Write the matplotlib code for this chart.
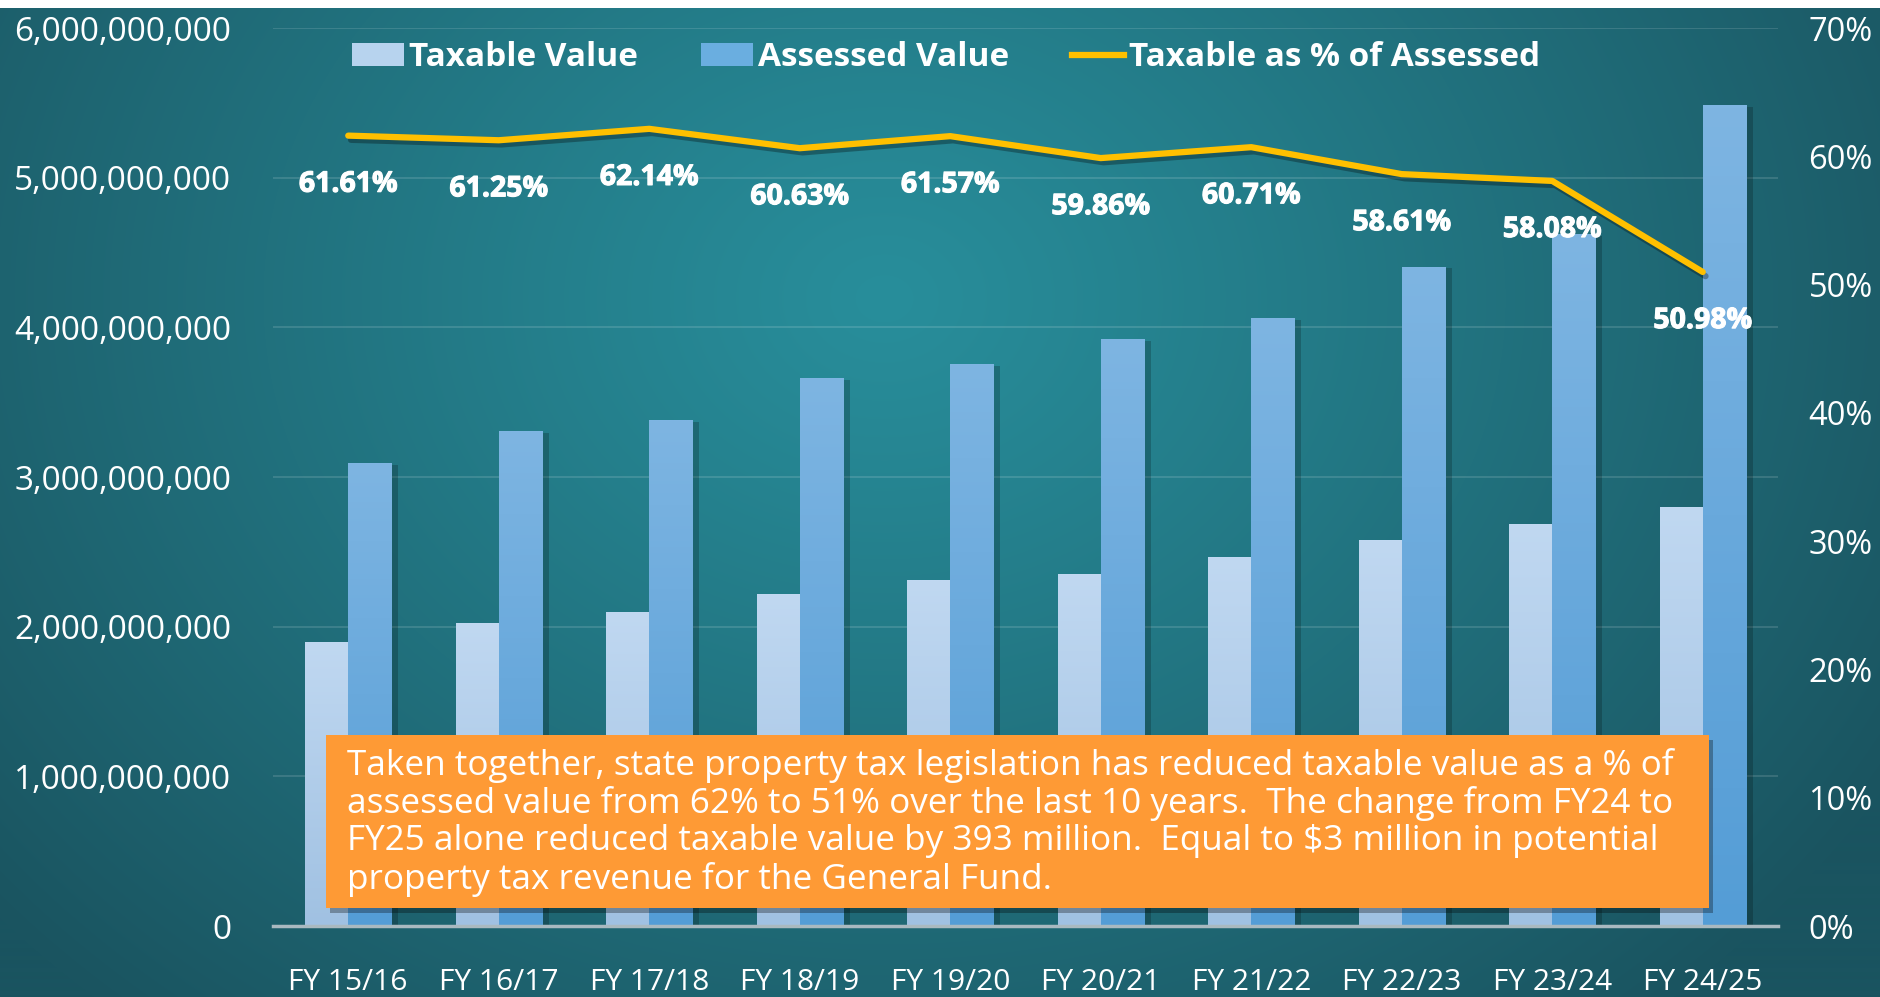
import numpy as np
import matplotlib
matplotlib.use("Agg")
import matplotlib.pyplot as plt
from matplotlib.patches import Patch, Rectangle
from matplotlib.lines import Line2D
import matplotlib.patheffects as pe
from matplotlib.ticker import FuncFormatter, MultipleLocator

categories = ["FY 15/16", "FY 16/17", "FY 17/18", "FY 18/19", "FY 19/20",
              "FY 20/21", "FY 21/22", "FY 22/23", "FY 23/24", "FY 24/25"]
taxable = [1.893e9, 2.021e9, 2.093e9, 2.213e9, 2.310e9,
           2.350e9, 2.462e9, 2.574e9, 2.683e9, 2.794e9]
assessed = [3.087e9, 3.304e9, 3.376e9, 3.657e9, 3.753e9,
            3.921e9, 4.058e9, 4.403e9, 4.619e9, 5.480e9]
pct = [61.61, 61.25, 62.14, 60.63, 61.57, 59.86, 60.71, 58.61, 58.08, 50.98]

note = ("Taken together, state property tax legislation has reduced taxable value as a % of\n"
        "assessed value from 62% to 51% over the last 10 years.  The change from FY24 to\n"
        "FY25 alone reduced taxable value by 393 million.  Equal to $3 million in potential\n"
        "property tax revenue for the General Fund.")

plt.rcParams['font.family'] = ['Open Sans', 'DejaVu Sans']

W, H = 1881, 997
fig = plt.figure(figsize=(W / 100, H / 100), dpi=100)

# background radial gradient
bg = fig.add_axes([0, 0, 1, 1], zorder=-10)
yy, xx = np.mgrid[0:H, 0:W]
cx, cy = 0.47 * W, 0.30 * H
d = np.sqrt(((xx - cx) / (0.62 * W)) ** 2 + ((yy - cy) / (0.95 * H)) ** 2)
d = np.clip(d, 0, 1) ** 1.1
c0 = np.array([40, 142, 155]) / 255
c1 = np.array([26, 84, 96]) / 255
img = c0[None, None, :] * (1 - d[..., None]) + c1[None, None, :] * d[..., None]
img[0:9, :, :] = 1.0
bg.imshow(img, extent=[0, 1, 0, 1], aspect='auto', origin='upper')
bg.set_axis_off()

ax = fig.add_axes([273 / W, 1 - 926 / H, (1778 - 273) / W, (926 - 28) / H])
ax.patch.set_visible(False)
x = np.arange(len(categories))
bw = 0.287
off = 0.1435

b1 = ax.bar(x - off, taxable, bw, color='#B7D3EE', zorder=3)
b2 = ax.bar(x + off, assessed, bw, color='#6AAEE0', zorder=3)

def add_gradient(bars, top, bottom):
    for r in bars:
        r.set_path_effects([pe.SimplePatchShadow(offset=(5, -1), shadow_rgbFace='black', alpha=0.2), pe.Normal()])
        x0, w, h = r.get_x(), r.get_width(), r.get_height()
        g = np.linspace(0, 1, 256)[:, None, None]
        col = np.array(top)[None, None, :] * (1 - g) + np.array(bottom)[None, None, :] * g
        ax.imshow(col / 255, extent=[x0, x0 + w, 0, h], aspect='auto', origin='upper', zorder=3.5)

add_gradient(b1, (192, 216, 241), (160, 193, 226))
add_gradient(b2, (126, 181, 226), (84, 157, 214))
ax.set_xlim(-0.5, len(categories) - 0.5)
ax.set_ylim(0, 6e9)

ax.yaxis.set_major_locator(MultipleLocator(1e9))
ax.yaxis.set_major_formatter(FuncFormatter(lambda v, p: f"{v:,.0f}"))
ax.grid(axis='y', color='white', alpha=0.13, lw=1.5, zorder=0)
ax.set_axisbelow(True)
for s in ['top', 'right', 'left']:
    ax.spines[s].set_visible(False)
ax.spines['bottom'].set_color('#A9B9C0')
ax.spines['bottom'].set_linewidth(2.5)
ax.spines['bottom'].set_zorder(5)
ax.set_xticks(x)
ax.set_xticklabels(categories)
ax.tick_params(axis='x', length=0, pad=30, labelsize=21.5, labelcolor='white')
ax.tick_params(axis='y', length=0, pad=30, labelsize=24, labelcolor='white')

ax2 = ax.twinx()
ax2.set_ylim(0, 0.7)
ax2.yaxis.set_major_locator(MultipleLocator(0.1))
ax2.yaxis.set_major_formatter(FuncFormatter(lambda v, p: f"{v*100:.0f}%"))
ax2.tick_params(axis='y', length=0, pad=22, labelsize=23.5, labelcolor='white')
for s in ax2.spines.values():
    s.set_visible(False)
pv = np.array(pct) / 100
ax2.plot(x, pv, color='#FFC000', lw=4.5, solid_capstyle='round', solid_joinstyle='round', zorder=6,
         path_effects=[pe.SimpleLineShadow(offset=(2, -3), shadow_color='black', alpha=0.3), pe.Normal()])
for xi, v in zip(x, pct):
    ax2.annotate(f"{v:.2f}%", (xi, v / 100), xytext=(0, -35), textcoords='offset points',
                 ha='center', va='center', fontsize=20.5, fontweight='bold', color='white', zorder=7,
                 path_effects=[pe.withStroke(linewidth=0.8, foreground='white')])

handles = [Patch(facecolor='#B7D3EE', edgecolor='none'),
           Patch(facecolor='#6AAEE0', edgecolor='none'),
           Line2D([0], [0], color='#FFC000', lw=4.5)]
labels = ["Taxable Value", "Assessed Value", "Taxable as % of Assessed"]
leg = fig.legend(handles, labels, loc='center', bbox_to_anchor=(0.503, 0.942), ncol=3, frameon=False,
                 prop={'size': 24, 'weight': 'bold'}, labelcolor='white', handlelength=1.55,
                 handleheight=0.65, handletextpad=0.15, columnspacing=1.9)

# orange annotation box
bx0, bx1 = 326 / W, 1709 / W
by0, by1 = 1 - 908 / H, 1 - 735 / H
shadow = Rectangle((bx0 + 4 / W, by0 - 5 / H), bx1 - bx0, by1 - by0, transform=fig.transFigure,
                   facecolor='black', alpha=0.3, edgecolor='none', zorder=8)
box = Rectangle((bx0, by0), bx1 - bx0, by1 - by0, transform=fig.transFigure,
                facecolor='#FE9A35', edgecolor='none', zorder=9)
fig.add_artist(shadow)
fig.add_artist(box)
fig.text(347 / W, 1 - 748 / H, note, ha='left', va='top', fontsize=25.3, color='white',
         linespacing=1.12, zorder=10)

fig.savefig("out.png", dpi=100)
